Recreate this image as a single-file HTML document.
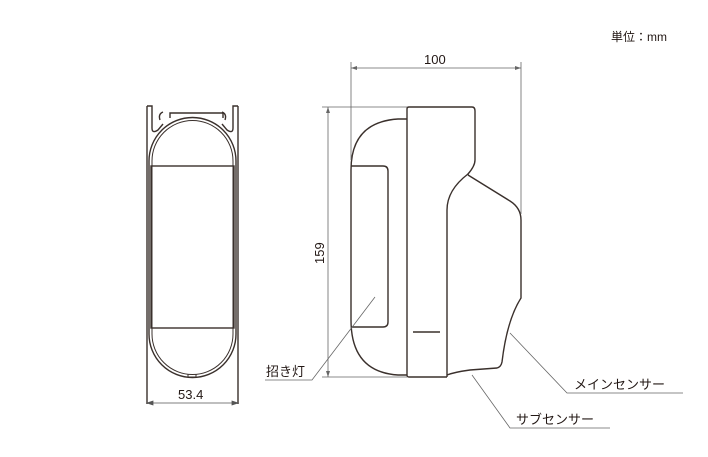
<!DOCTYPE html>
<html><head><meta charset="utf-8"><style>
body{margin:0;background:#fff}
svg{display:block}
text{font-family:"Liberation Sans","Noto Sans CJK JP",sans-serif;fill:#231815}
</style></head><body>
<svg width="708" height="457" viewBox="0 0 708 457" xmlns="http://www.w3.org/2000/svg">
<text x="611" y="41" font-size="12">単位：mm</text>
<!-- LEFT VIEW -->
<g fill="none" stroke="#3a302c" stroke-width="1.4">
<path d="M147,106 V404 M238,106 V404"/>
<path d="M147,106 H152 V128 Q152,134 158,130 L163,124"/>
<path d="M238,106 H233 V128 Q233,134 227,130 L222,124"/>
<path d="M170,118 V113 H223 V118"/>
<path d="M160,120 Q158,114 163,112 M225,120 Q227,114 222,112"/>
<path d="M149,161 A43.5,43.5 0 0 1 236,161 V334 A43.5,43.5 0 0 1 149,334 Z"/>
<path d="M152,161 A40.5,40.5 0 0 1 233,161 V334 A40.5,40.5 0 0 1 152,334 Z" stroke-width="1"/>
<rect x="151" y="166" width="83" height="162"/>
<path d="M188,374 V377 H196 V374" stroke-width="1"/>
</g>
<g stroke="#555" stroke-width="0.8" fill="none">
<path d="M147,403 H238"/>
<path d="M147,403 l6,-2 v4 Z M238,403 l-6,-2 v4 Z" fill="#555"/>
</g>
<text x="178" y="399" font-size="13">53.4</text>
<!-- RIGHT VIEW -->
<g fill="none" stroke="#3a302c" stroke-width="1.4">
<path d="M407,119 H398 Q351,122 351,170 V320 Q351,372 398,375 H407"/>
<path d="M351,166 H383 Q388,166 388,171 V322 Q388,327 383,327 H351"/>
<path d="M409,107 H472 Q475,107 475,111 V160 Q475,166 468,174 L468,175"/>
<path d="M409,107 Q407,107 407,109 V375 Q407,377 409,377 H447"/>
<path d="M468,174 Q447,190 447,210 V377"/>
<path d="M468,175 L510,201 Q521,208 521,220 V298 Q507,320 502,362 Q501,367 497,368 L470,370 Q455,372 447,375"/>
<path d="M413,332 H440"/>
</g>
<!-- dims -->
<g stroke="#666" stroke-width="0.8" fill="none">
<path d="M351,62 V160 M521,62 V214 M351,68 H521"/>
<path d="M322,107 H407 M322,377 H407 M328,107 V377"/>
<path d="M265,380 H312 L375,297"/>
<path d="M510,333 L567,393 H683"/>
<path d="M472,375 L510,428 H610"/>
</g>
<g fill="#666">
<path d="M351,68 l6,-2 v4 Z M521,68 l-6,-2 v4 Z"/>
<path d="M328,107 l-2,6 h4 Z M328,377 l-2,-6 h4 Z"/>
</g>
<text x="424" y="64" font-size="13">100</text>
<text font-size="13" transform="translate(324,264) rotate(-90)">159</text>
<text x="266" y="376" font-size="13">招き灯</text>
<text x="574" y="389" font-size="13">メインセンサー</text>
<text x="516" y="424" font-size="13">サブセンサー</text>
</svg>
</body></html>
